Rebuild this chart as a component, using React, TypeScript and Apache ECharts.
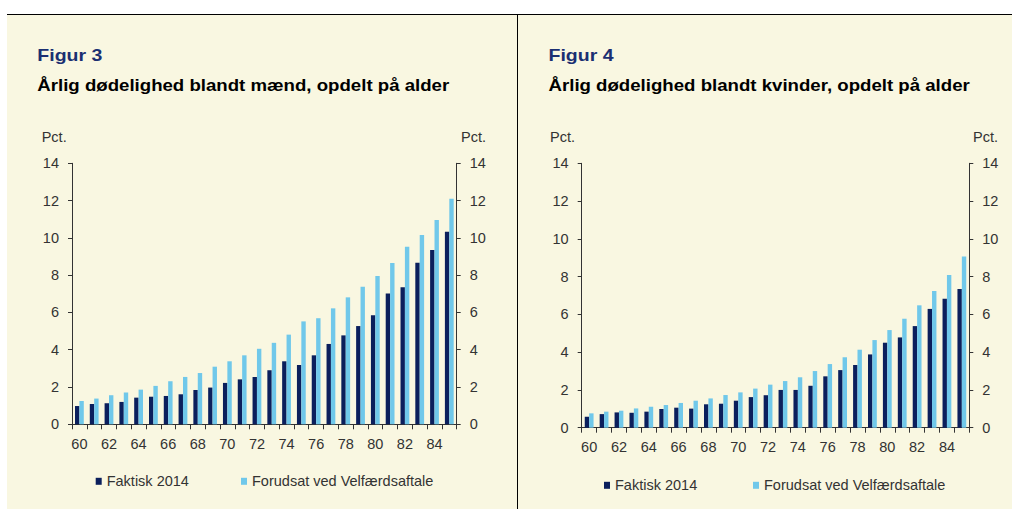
import React, { useEffect, useRef } from "react";
import * as echarts from "echarts";

const ages = ["60","61","62","63","64","65","66","67","68","69","70","71","72","73","74","75","76","77","78","79","80","81","82","83","84","85"];
const menActual = [0.98,1.09,1.13,1.2,1.43,1.48,1.52,1.61,1.84,1.97,2.22,2.41,2.54,2.9,3.38,3.18,3.7,4.31,4.77,5.27,5.85,7.01,7.35,8.67,9.35,10.33];
const menAssumed = [1.25,1.38,1.56,1.7,1.86,2.06,2.31,2.54,2.75,3.09,3.38,3.7,4.05,4.37,4.81,5.52,5.69,6.22,6.81,7.38,7.96,8.65,9.53,10.16,10.96,12.1];
const womenActual = [0.58,0.72,0.81,0.79,0.85,0.99,1.06,1.01,1.24,1.27,1.43,1.62,1.72,2.0,2.0,2.22,2.72,3.05,3.32,3.88,4.5,4.78,5.38,6.29,6.83,7.34];
const womenAssumed = [0.76,0.85,0.9,1.02,1.11,1.2,1.31,1.43,1.55,1.73,1.87,2.07,2.28,2.47,2.67,3.0,3.37,3.73,4.13,4.64,5.17,5.77,6.48,7.24,8.09,9.06];
const seriesNames = ["Faktisk 2014", "Forudsat ved Velfærdsaftale"];
const panelTitles = ["Figur 3", "Figur 4"];
const panelSubtitles = ["Årlig dødelighed blandt mænd, opdelt på alder", "Årlig dødelighed blandt kvinder, opdelt på alder"];
const unitLabel = "Pct.";

const FONT = "'Liberation Sans', Arial, Helvetica, sans-serif";
const DARK = "#0B1F5C";
const LIGHT = "#70C8EA";
const CREAM = "#F9F7E1";
const AX = "#333333";

export default function App() {
  const ref = useRef<HTMLDivElement>(null);
  useEffect(() => {
    if (!ref.current) return;
    const chart = echarts.init(ref.current, undefined, { renderer: "svg" });
    const grids = [
      { left: 72, top: 163.3, width: 384.7, height: 261 },
      { left: 581.7, top: 163.3, width: 387.6, height: 264.4 },
    ];
    const xAxis = grids.map((_, i) => ({
      type: "category",
      gridIndex: i,
      data: ages,
      axisLine: { show: true, lineStyle: { color: AX, width: 1 } },
      axisTick: { show: true, interval: 0, length: 5, lineStyle: { color: AX } },
      axisLabel: { interval: 1, margin: 12, fontSize: 14.5, color: AX, fontFamily: FONT },
      splitLine: { show: false },
    }));
    const yAxis: any[] = [];
    grids.forEach((_, i) => {
      ["left", "right"].forEach((pos) => {
        yAxis.push({
          type: "value",
          gridIndex: i,
          position: pos,
          min: 0,
          max: 14,
          interval: 2,
          axisLine: { show: true, lineStyle: { color: AX, width: 1 } },
          axisTick: { show: true, length: 4, lineStyle: { color: AX } },
          axisLabel: { margin: 13, fontSize: 14.5, color: AX, fontFamily: FONT },
          splitLine: { show: false },
        });
      });
    });
    const mk = (name: string, data: number[], color: string, gi: number) => ({
      name,
      type: "bar",
      xAxisIndex: gi,
      yAxisIndex: gi * 2,
      data,
      barWidth: 4.4,
      barGap: "0%",
      itemStyle: { color },
    });
    const legendPos = [
      [95.7, 241],
      [604, 753],
    ];
    const legendTops = [473.3, 477.3];
    const legend: any[] = [];
    legendPos.forEach((xs, pi) => {
      xs.forEach((x, si) => {
        legend.push({
          data: [seriesNames[si]],
          left: x,
          top: legendTops[pi],
          padding: 0,
          icon: "rect",
          itemWidth: 6,
          itemHeight: 7,
          textStyle: { fontSize: 14.5, color: AX, fontFamily: FONT, lineHeight: 16 },
        });
      });
    });
    const titleX = [37.3, 548.5];
    const pctPos = [
      [41.7, 461],
      [550, 973],
    ];
    const graphic: any[] = [
      { type: "rect", shape: { x: 7, y: 15, width: 1005, height: 494 }, style: { fill: CREAM }, z: -10 },
      { type: "line", shape: { x1: 7, y1: 14.5, x2: 1012, y2: 14.5 }, style: { stroke: "#000", lineWidth: 1 }, z: -5 },
      { type: "line", shape: { x1: 517.5, y1: 15, x2: 517.5, y2: 509 }, style: { stroke: "#000", lineWidth: 1 }, z: -5 },
    ];
    titleX.forEach((x, i) => {
      graphic.push({
        type: "text",
        x,
        y: 47.5,
        scaleX: 1.22,
        style: { text: panelTitles[i], font: `bold 16px ${FONT}`, fill: "#1B2F72" },
      });
      graphic.push({
        type: "text",
        x,
        y: 77,
        scaleX: 1.165,
        style: { text: panelSubtitles[i], font: `bold 16px ${FONT}`, fill: "#000" },
      });
      pctPos[i].forEach((px) => {
        graphic.push({
          type: "text",
          x: px,
          y: 136.7,
          style: { text: unitLabel, font: `14.5px ${FONT}`, fill: AX, verticalAlign: "middle" },
        });
      });
    });
    chart.setOption({
      animation: false,
      backgroundColor: "#ffffff",
      grid: grids,
      xAxis,
      yAxis,
      legend,
      graphic,
      series: [
        mk(seriesNames[0], menActual, DARK, 0),
        mk(seriesNames[1], menAssumed, LIGHT, 0),
        mk(seriesNames[0], womenActual, DARK, 1),
        mk(seriesNames[1], womenAssumed, LIGHT, 1),
      ],
    });
    return () => chart.dispose();
  }, []);
  return <div ref={ref} style={{ position: "fixed", left: 0, top: 0, width: 1015, height: 509 }} />;
}
